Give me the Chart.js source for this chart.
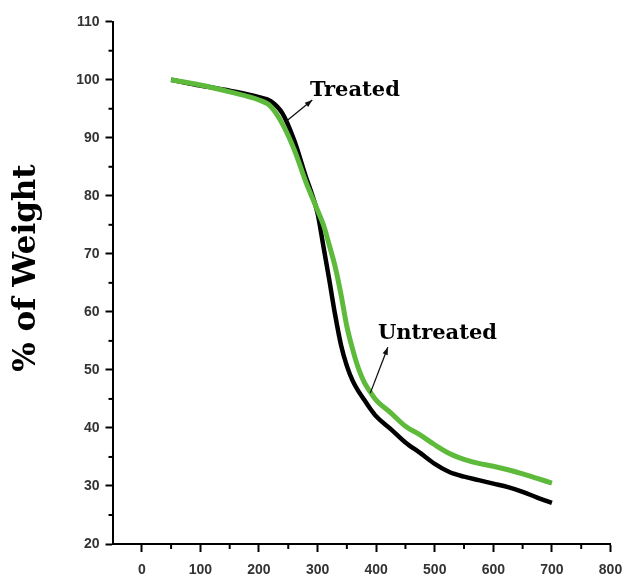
<!DOCTYPE html>
<html lang="en">
<head>
<meta charset="UTF-8">
<title>% of Weight</title>
<script src="https://cdn.jsdelivr.net/npm/chart.js"></script>
<style>
  body { margin: 0; background: #fff; overflow: hidden; }
  canvas { display: block; }
</style>
</head>
<body>
<canvas id="grafico" width="624" height="577"></canvas>
<script>
// temperatures
const temps = [50, 100, 150, 200, 220, 240, 260, 280, 290, 300, 310, 320, 330, 340, 350, 360, 370, 380, 390, 400, 425, 450, 475, 500, 525, 550, 575, 600, 625, 650, 675, 700];
const treated = [100, 99.0, 98.1, 97.0, 96.3, 94.2, 89.6, 83.3, 80.4, 77, 71.3, 65.5, 59.5, 54.3, 50.7, 48.1, 46.3, 44.8, 43.3, 42, 39.8, 37.5, 35.7, 33.8, 32.4, 31.6, 31.0, 30.4, 29.8, 29.0, 28.0, 27.1];
const untreated = [100, 99.1, 97.9, 96.5, 95.4, 92.4, 88, 82.4, 79.9, 77.5, 75.0, 71.5, 67.8, 63, 57.5, 53.5, 50.2, 47.8, 46.2, 44.8, 42.6, 40.3, 38.8, 37.1, 35.6, 34.6, 33.9, 33.4, 32.8, 32.1, 31.3, 30.5];
const yTicks = [20, 30, 40, 50, 60, 70, 80, 90, 100, 110];
const xTicks = [0, 100, 200, 300, 400, 500, 600, 700, 800];
const yMinor = [25, 35, 45, 55, 65, 75, 85, 95, 105];
const xMinor = [50, 150, 250, 350, 450, 550, 650, 750];

// labels with arrows, in data units: text pos, arrow tail, arrow head
const notes = [
  { text: 'Treated', tx: 287, ty: 98.2, ax: 245, ay: 92.7, bx: 291, by: 96.5 },
  { text: 'Untreated', tx: 403, ty: 56.3, ax: 390, ay: 46, bx: 420, by: 53.9 }
];

function pares(ys) {
  return temps.map((t, i) => ({ x: t, y: ys[i] }));
}

const extras = {
  id: 'extras',
  afterDraw(chart) {
    const c = chart.ctx;
    const xs = chart.scales.x, ys = chart.scales.y;
    c.save();
    c.strokeStyle = '#000';
    c.lineWidth = 2;
    // minor ticks
    yMinor.forEach(v => {
      const p = ys.getPixelForValue(v);
      c.beginPath(); c.moveTo(xs.left - 4, p); c.lineTo(xs.left, p); c.stroke();
    });
    xMinor.forEach(v => {
      const p = xs.getPixelForValue(v);
      c.beginPath(); c.moveTo(p, ys.bottom); c.lineTo(p, ys.bottom + 5); c.stroke();
    });
    // y title
    c.fillStyle = '#000';
    c.font = 'bold 31px "DejaVu Serif"';
    c.textAlign = 'center';
    c.textBaseline = 'middle';
    c.translate(27, 268);
    c.rotate(-Math.PI / 2);
    c.fillText('% of Weight', 0, 0);
    c.restore();

    // notes with arrows
    c.save();
    notes.forEach(n => {
      const x1 = xs.getPixelForValue(n.ax), y1 = ys.getPixelForValue(n.ay);
      const x2 = xs.getPixelForValue(n.bx), y2 = ys.getPixelForValue(n.by);
      c.strokeStyle = '#111';
      c.fillStyle = '#111';
      c.lineWidth = 1.3;
      c.beginPath(); c.moveTo(x1, y1); c.lineTo(x2, y2); c.stroke();
      const ang = Math.atan2(y2 - y1, x2 - x1);
      c.beginPath();
      c.moveTo(x2, y2);
      c.lineTo(x2 - 8 * Math.cos(ang - 0.35), y2 - 8 * Math.sin(ang - 0.35));
      c.lineTo(x2 - 8 * Math.cos(ang + 0.35), y2 - 8 * Math.sin(ang + 0.35));
      c.closePath(); c.fill();
      c.fillStyle = '#000';
      c.font = 'bold 21px "DejaVu Serif"';
      c.textAlign = 'left';
      c.textBaseline = 'middle';
      c.fillText(n.text, xs.getPixelForValue(n.tx), ys.getPixelForValue(n.ty));
    });
    c.restore();
  }
};

new Chart(document.getElementById('grafico'), {
  type: 'line',
  data: {
    datasets: [
      {
        label: 'Untreated',
        data: pares(untreated),
        borderColor: '#5dba3b',
        borderWidth: 5,
        pointRadius: 0,
        tension: 0.4,
        cubicInterpolationMode: 'monotone',
        order: 0
      },
      {
        label: 'Treated',
        data: pares(treated),
        borderColor: '#000',
        borderWidth: 4.5,
        pointRadius: 0,
        tension: 0.4,
        cubicInterpolationMode: 'monotone',
        order: 1
      }
    ]
  },
  options: {
    responsive: false,
    animation: false,
    layout: { padding: { top: 21.7, right: 13.5, left: 0, bottom: 0 } },
    plugins: {
      legend: { display: false },
      tooltip: { enabled: false }
    },
    scales: {
      x: {
        type: 'linear',
        min: -50,
        max: 800,
        afterBuildTicks: s => { s.ticks = xTicks.map(v => ({ value: v })); },
        afterFit: s => { s.height = 33; s.paddingLeft = 0; s.paddingRight = 0; },
        border: { color: '#000', width: 2 },
        grid: { drawOnChartArea: false, tickLength: 8, tickWidth: 2, tickColor: '#000' },
        ticks: {
          color: '#333',
          padding: 10,
          maxRotation: 0,
          font: { family: '"Liberation Sans"', size: 14, weight: 'bold' }
        }
      },
      y: {
        min: 20,
        max: 110,
        afterBuildTicks: s => { s.ticks = yTicks.map(v => ({ value: v })); },
        afterFit: s => { s.width = 112.5; },
        border: { color: '#000', width: 2 },
        grid: { drawOnChartArea: false, tickLength: 7, tickWidth: 2, tickColor: '#000' },
        ticks: {
          color: '#333',
          padding: 6,
          font: { family: '"Liberation Sans"', size: 14, weight: 'bold' }
        }
      }
    }
  },
  plugins: [extras]
});
</script>
</body>
</html>
